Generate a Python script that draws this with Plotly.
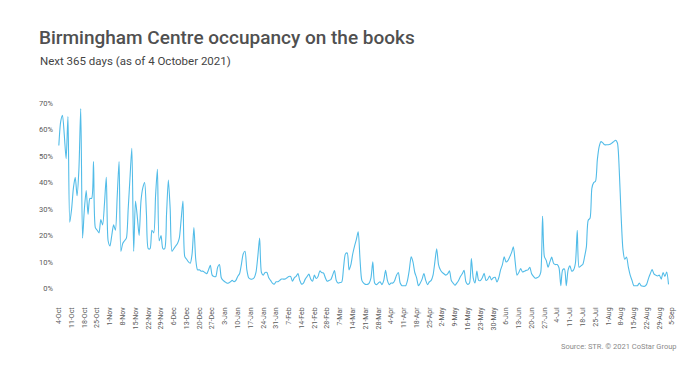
import pandas as pd
import plotly.graph_objects as go

start_date = "2021-10-04"

occupancy_pct = [
    54, 63, 65.5, 58, 49, 65, 25, 30, 38, 42, 35, 45, 68, 19, 30, 37, 28, 34, 34, 48,
    23, 22, 21, 26, 24, 32, 42, 18, 16, 20, 24, 22, 35, 48, 14, 17, 18, 19, 30, 42,
    53, 14, 33, 27, 20, 33, 38, 40, 28, 15, 15, 22, 21, 35, 45, 18, 20, 15, 15, 28,
    41, 30, 14, 15, 16, 17, 19, 26, 33, 12, 11, 10, 9.5, 13, 23, 11, 7, 7, 6.5, 6.5,
    6, 5.5, 7, 8.7, 5, 4.5, 4.5, 8, 9, 4, 3, 2.5, 2, 2, 2.5, 3, 2.5, 3, 4.5, 5.5,
    9, 13, 14, 7, 4, 3.5, 3.5, 4, 6, 12, 19, 6, 5, 6, 6, 4, 3, 2, 1.6, 2.5,
    2.5, 3, 3.5, 3.5, 3.5, 4, 4.5, 4.5, 2.7, 4, 4.5, 5.6, 3, 1.6, 2, 3.5, 4.5, 5.4, 3.5, 2.7,
    5, 3.7, 4.5, 6.6, 6, 5.8, 4, 2.7, 3, 3.3, 5, 6.7, 3, 2, 2.2, 2.4, 8, 13, 13.4, 7,
    9, 13, 16, 18.5, 21.4, 11, 3, 2, 1.5, 1.5, 2, 4, 10, 2, 1.4, 2, 2.5, 1.4, 3, 6.8,
    3, 1.4, 2, 2, 3, 5, 6, 2, 1, 1, 1, 3, 7, 11.9, 10, 6, 4, 1, 2, 3.5,
    5.6, 3, 1.4, 2.5, 3, 5, 10, 15, 9, 7, 6, 5.5, 5, 5.5, 6.6, 3, 2, 1.2, 2, 3,
    4.5, 5.5, 6.8, 2.5, 1.5, 2, 11.3, 4, 2, 6.5, 3, 3, 4, 5.7, 3, 3.5, 4.7, 3.2, 4, 4.2,
    2.4, 4, 7, 9, 11.9, 10, 10.5, 11.9, 13.5, 15.7, 10, 5, 6, 7.5, 6.2, 6.5, 6.8, 7, 8, 5.5,
    4.5, 3.8, 4, 4.4, 6, 27.3, 12, 10.6, 8, 10, 11.8, 9.5, 9, 9, 7.8, 1, 7, 7.3, 1, 7,
    8.5, 6.5, 7, 9.6, 22, 8, 8.5, 9, 11.9, 15.7, 25.8, 26.5, 37.8, 40, 40.5, 48.6, 53.6, 55.5, 55, 54.3,
    54.3, 54.3, 54.5, 55, 55.5, 56, 55, 44.8, 28, 15, 11, 11.8, 8, 5, 3, 1, 1, 1, 2, 1,
    0.8, 0.8, 1.5, 3.7, 5.5, 7.1, 5.5, 5, 4.7, 5, 3.5, 6, 4.5, 6.2, 1.5,
]

tick_labels = [
    "4-Oct", "11-Oct", "18-Oct", "25-Oct", "1-Nov", "8-Nov", "15-Nov", "22-Nov", "29-Nov",
    "6-Dec", "13-Dec", "20-Dec", "27-Dec", "3-Jan", "10-Jan", "17-Jan", "24-Jan", "31-Jan",
    "7-Feb", "14-Feb", "21-Feb", "28-Feb", "7-Mar", "14-Mar", "21-Mar", "28-Mar", "4-Apr",
    "11-Apr", "18-Apr", "25-Apr", "2-May", "9-May", "16-May", "23-May", "30-May", "6-Jun",
    "13-Jun", "20-Jun", "27-Jun", "4-Jul", "11-Jul", "18-Jul", "25-Jul", "1-Aug", "8-Aug",
    "15-Aug", "22-Aug", "29-Aug", "5-Sep",
]

y_ticks = [0, 10, 20, 30, 40, 50, 60, 70]

dates = pd.date_range(start_date, periods=len(occupancy_pct), freq="D")
tick_dates = pd.date_range(start_date, periods=len(tick_labels), freq="7D")

FONT = "Roboto, sans-serif"

# plot-area geometry (pixels)
L, R, T, B = 56.5, 25.5, 98, 76.4
PW = 700 - L - R
PH = 367 - T - B


def px_x(px):
    return (px - L) / PW


def px_y(py):
    return (367 - B - py) / PH


fig = go.Figure()
fig.add_trace(go.Scatter(
    x=dates, y=occupancy_pct, mode="lines",
    line=dict(color="#52BCE8", width=1.1, shape="spline", smoothing=0.7),
    hoverinfo="x+y",
))

x0 = pd.Timestamp(start_date) - pd.Timedelta(days=1)
x1 = pd.Timestamp(start_date) + pd.Timedelta(days=337)

fig.update_layout(
    width=700, height=367,
    margin=dict(l=L, r=R, t=T, b=B),
    paper_bgcolor="white", plot_bgcolor="white",
    showlegend=False,
    font=dict(family=FONT, color="#595959"),
    xaxis=dict(
        range=[x0, x1], showgrid=False, zeroline=False, showline=False,
        tickmode="array", tickvals=tick_dates, ticktext=tick_labels,
        tickangle=-90, tickfont=dict(size=7, color="#595959", family=FONT),
        ticks="", ticklabelstandoff=14,
    ),
    yaxis=dict(
        range=[-1, 72], showgrid=False, zeroline=False, showline=False,
        tickmode="array", tickvals=y_ticks, ticktext=[f"{v}%" for v in y_ticks],
        tickfont=dict(size=7.5, color="#595959", family=FONT),
        ticks="", ticklabelstandoff=3,
    ),
    annotations=[
        dict(text="Birmingham Centre occupancy on the books", xref="paper", yref="paper",
             x=px_x(36), y=px_y(24), xanchor="left", yanchor="top",
             showarrow=False, font=dict(size=19, color="#505050", family=FONT, weight=500)),
        dict(text="Next 365 days (as of 4 October 2021)", xref="paper", yref="paper",
             x=px_x(37), y=px_y(52), xanchor="left", yanchor="top",
             showarrow=False, font=dict(size=11.5, color="#444444", family=FONT)),
        dict(text="Source: STR. \u00a9 2021 CoStar Group", xref="paper", yref="paper",
             x=px_x(680), y=px_y(346), xanchor="right", yanchor="middle",
             showarrow=False, font=dict(size=7.5, color="#8a8a8a", family=FONT)),
    ],
)

fig.write_html("out.html", config={"displayModeBar": False},
               post_script="document.body.style.margin='0';")
